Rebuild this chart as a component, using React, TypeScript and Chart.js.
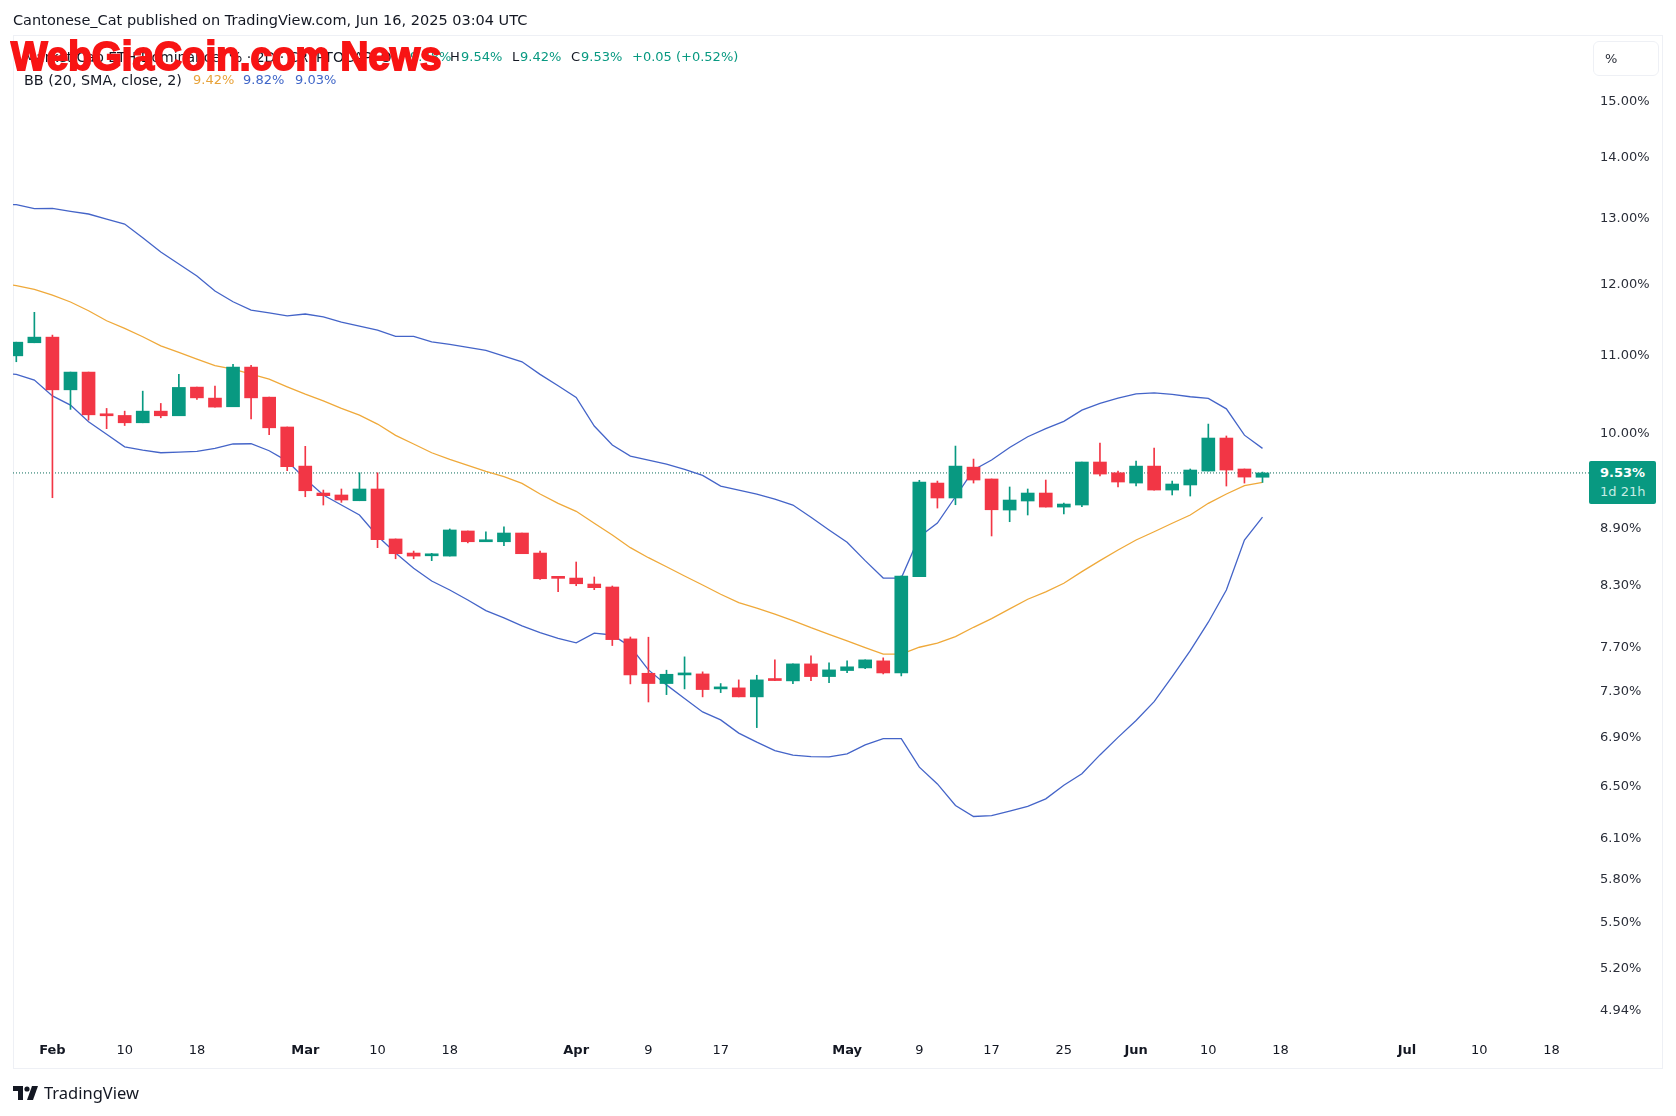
import { useEffect, useRef } from "react";
import { Chart, registerables } from "chart.js";

Chart.register(...registerables);

const opens = [10.995, 11.172, 11.249, 10.548, 10.779, 10.24, 10.223, 10.132, 10.277, 10.219, 10.583, 10.442, 10.332, 10.845, 10.454, 10.08, 9.61, 9.299, 9.277, 9.212, 9.345, 8.792, 8.642, 8.613, 8.61, 8.878, 8.762, 8.762, 8.856, 8.642, 8.386, 8.382, 8.321, 8.291, 7.782, 7.462, 7.369, 7.447, 7.456, 7.321, 7.33, 7.25, 7.402, 7.393, 7.548, 7.432, 7.487, 7.511, 7.576, 7.465, 8.396, 9.413, 9.243, 9.598, 9.46, 9.108, 9.209, 9.299, 9.141, 9.164, 9.658, 9.532, 9.413, 9.61, 9.333, 9.391, 9.552, 9.945, 9.576, 9.48];
const highs = [11.18, 11.595, 11.277, 10.779, 10.779, 10.311, 10.277, 10.531, 10.374, 10.749, 10.583, 10.596, 10.88, 10.867, 10.454, 10.08, 9.845, 9.333, 9.345, 9.532, 9.532, 8.792, 8.663, 8.639, 8.9, 8.878, 8.87, 8.923, 8.856, 8.663, 8.386, 8.548, 8.393, 8.301, 7.8, 7.798, 7.49, 7.613, 7.475, 7.369, 7.402, 7.444, 7.585, 7.548, 7.622, 7.557, 7.576, 7.585, 7.604, 8.403, 9.445, 9.436, 9.848, 9.693, 9.46, 9.368, 9.345, 9.448, 9.186, 9.658, 9.885, 9.552, 9.669, 9.824, 9.436, 9.576, 10.116, 9.97, 9.576, 9.54];
const lows = [10.916, 11.172, 9.246, 10.299, 10.165, 10.059, 10.098, 10.132, 10.194, 10.219, 10.425, 10.328, 10.332, 10.181, 9.985, 9.556, 9.257, 9.164, 9.194, 9.212, 8.699, 8.582, 8.582, 8.562, 8.61, 8.75, 8.762, 8.72, 8.635, 8.369, 8.244, 8.304, 8.264, 7.719, 7.366, 7.205, 7.27, 7.321, 7.25, 7.288, 7.25, 6.983, 7.396, 7.369, 7.396, 7.378, 7.468, 7.505, 7.456, 7.438, 8.396, 9.13, 9.167, 9.413, 8.824, 8.979, 9.053, 9.141, 9.064, 9.145, 9.494, 9.368, 9.379, 9.333, 9.277, 9.265, 9.552, 9.379, 9.413, 9.42];
const closes = [11.18, 11.249, 10.548, 10.779, 10.231, 10.219, 10.132, 10.277, 10.219, 10.579, 10.445, 10.328, 10.845, 10.445, 10.07, 9.603, 9.325, 9.269, 9.22, 9.345, 8.784, 8.635, 8.61, 8.62, 8.889, 8.762, 8.77, 8.856, 8.635, 8.375, 8.379, 8.324, 8.284, 7.775, 7.447, 7.369, 7.453, 7.456, 7.315, 7.33, 7.25, 7.402, 7.396, 7.548, 7.432, 7.493, 7.521, 7.585, 7.465, 8.403, 9.425, 9.243, 9.61, 9.448, 9.111, 9.22, 9.299, 9.141, 9.175, 9.658, 9.517, 9.425, 9.61, 9.333, 9.402, 9.564, 9.945, 9.564, 9.482, 9.53];

// the bands start one bar earlier than the candles, that bar sits just off the left edge
const bbUpper = [13.24, 13.223, 13.159, 13.165, 13.117, 13.074, 12.994, 12.915, 12.701, 12.482, 12.3, 12.121, 11.9, 11.746, 11.627, 11.588, 11.546, 11.571, 11.532, 11.458, 11.402, 11.346, 11.259, 11.259, 11.185, 11.149, 11.108, 11.068, 10.991, 10.915, 10.749, 10.6, 10.45, 10.092, 9.861, 9.728, 9.681, 9.634, 9.572, 9.502, 9.379, 9.333, 9.288, 9.231, 9.164, 9.028, 8.889, 8.757, 8.562, 8.382, 8.382, 8.816, 8.965, 9.257, 9.564, 9.681, 9.83, 9.961, 10.059, 10.15, 10.29, 10.374, 10.442, 10.497, 10.51, 10.49, 10.459, 10.438, 10.306, 9.98, 9.82];
const bbBasis = [12.02, 11.979, 11.926, 11.84, 11.742, 11.617, 11.476, 11.37, 11.254, 11.13, 11.041, 10.951, 10.863, 10.818, 10.753, 10.687, 10.587, 10.493, 10.407, 10.311, 10.227, 10.116, 9.978, 9.873, 9.768, 9.689, 9.619, 9.549, 9.486, 9.41, 9.288, 9.183, 9.094, 8.962, 8.835, 8.699, 8.593, 8.499, 8.403, 8.311, 8.218, 8.134, 8.079, 8.02, 7.957, 7.889, 7.826, 7.763, 7.699, 7.638, 7.638, 7.703, 7.741, 7.804, 7.893, 7.977, 8.072, 8.168, 8.241, 8.329, 8.448, 8.562, 8.674, 8.781, 8.87, 8.962, 9.053, 9.183, 9.288, 9.383, 9.42];
const bbLower = [10.77, 10.749, 10.674, 10.47, 10.353, 10.144, 9.99, 9.839, 9.8, 9.768, 9.776, 9.785, 9.82, 9.873, 9.876, 9.792, 9.669, 9.46, 9.277, 9.164, 9.053, 8.824, 8.642, 8.482, 8.352, 8.261, 8.161, 8.055, 7.984, 7.906, 7.841, 7.788, 7.744, 7.836, 7.819, 7.709, 7.493, 7.357, 7.235, 7.118, 7.049, 6.936, 6.86, 6.79, 6.752, 6.74, 6.738, 6.762, 6.837, 6.89, 6.89, 6.654, 6.519, 6.35, 6.265, 6.272, 6.306, 6.342, 6.401, 6.509, 6.6, 6.754, 6.9, 7.044, 7.208, 7.432, 7.671, 7.942, 8.261, 8.781, 9.03];

const priceTicks = [15, 14, 13, 12, 11, 10, 8.9, 8.3, 7.7, 7.3, 6.9, 6.5, 6.1, 5.8, 5.5, 5.2, 4.94];
const timeTickSlots = [2, 6, 10, 16, 20, 24, 31, 35, 39, 46, 50, 54, 58, 62, 66, 70, 77, 81, 85];
const timeTickLabels = ["Feb", "10", "18", "Mar", "10", "18", "Apr", "9", "17", "May", "9", "17", "25", "Jun", "10", "18", "Jul", "10", "18"];

const GREEN = "#089981";
const RED = "#F23645";
const BLUE = "#4464c8";
const ORANGE = "#efa93a";
const X_MIN = -0.183;
const X_MAX = 87.41;
const Y_MIN = 4.786;
const Y_MAX = 16.268;
const FONT = '"DejaVu Sans", sans-serif';

const labelStyle = (left: number, top: number, color: string, size = 13): React.CSSProperties => ({
  position: "absolute",
  left,
  top,
  color,
  fontFamily: FONT,
  fontSize: size,
  lineHeight: "16px",
  whiteSpace: "pre",
});

export default function App() {
  const canvasRef = useRef<HTMLCanvasElement>(null);

  useEffect(() => {
    if (!canvasRef.current) return;
    document.body.style.margin = "0";

    const candleColors = closes.map((c, i) => (c >= opens[i] ? GREEN : RED));
    const lineStyle = { pointRadius: 0, borderWidth: 1.3, tension: 0 };
    const bandPoints = (band: number[]) => band.map((y, i) => ({ x: i - 1, y }));

    const chart = new Chart(canvasRef.current, {
      data: {
        datasets: [
          {
            type: "bar",
            label: "Body",
            data: closes.map((c, i) => ({ x: i, y: [opens[i], c] })),
            backgroundColor: candleColors,
            barThickness: 13,
            minBarLength: 2,
            grouped: false,
            order: 0,
          },
          {
            type: "bar",
            label: "Wick",
            data: highs.map((h, i) => ({ x: i, y: [lows[i], h] })),
            backgroundColor: candleColors,
            barThickness: 1,
            grouped: false,
            order: 1,
          },
          { type: "line", label: "Basis", data: bandPoints(bbBasis), borderColor: ORANGE, order: 2, ...lineStyle },
          { type: "line", label: "Upper", data: bandPoints(bbUpper), borderColor: BLUE, order: 3, ...lineStyle },
          { type: "line", label: "Lower", data: bandPoints(bbLower), borderColor: BLUE, order: 3, ...lineStyle },
          {
            type: "line",
            label: "Last",
            data: [
              { x: X_MIN, y: closes[closes.length - 1] },
              { x: X_MAX, y: closes[closes.length - 1] },
            ],
            borderColor: "#0b6b5a",
            borderWidth: 1,
            borderDash: [1, 2],
            pointRadius: 0,
            order: 4,
          },
        ],
      } as any,
      options: {
        responsive: false,
        animation: false,
        layout: { padding: { left: 13, top: 35, right: 0, bottom: 0 } },
        plugins: { legend: { display: false }, tooltip: { enabled: false } },
        scales: {
          x: {
            type: "linear",
            min: X_MIN,
            max: X_MAX,
            offset: false,
            bounds: "data",
            grid: { display: false, drawTicks: false },
            border: { display: false },
            afterFit: (scale: any) => {
              scale.height = 79;
            },
            afterBuildTicks: (scale: any) => {
              scale.ticks = timeTickSlots.map((value) => ({ value }));
            },
            ticks: {
              autoSkip: false,
              maxRotation: 0,
              padding: 6,
              color: "#131722",
              font: (ctx: any) => ({
                family: FONT,
                size: 13,
                weight: /[a-z]/i.test(timeTickLabels[ctx.index] ?? "") ? "bold" : "normal",
              }),
              callback: (_v: any, i: number) => timeTickLabels[i],
            },
          },
          y: {
            type: "logarithmic",
            position: "right",
            min: Y_MIN,
            max: Y_MAX,
            bounds: "data",
            grid: { display: false, drawTicks: false },
            border: { display: false },
            afterFit: (scale: any) => {
              scale.width = 81;
            },
            afterBuildTicks: (scale: any) => {
              scale.ticks = priceTicks.map((value) => ({ value }));
            },
            ticks: {
              autoSkip: false,
              padding: 5,
              color: "#2a2e39",
              font: { family: FONT, size: 13 },
              callback: (v: any) => Number(v).toFixed(2) + "%",
            },
          },
        },
      },
    });

    return () => chart.destroy();
  }, []);

  return (
    <div style={{ position: "relative", width: 1676, height: 1116, background: "#fff", overflow: "hidden" }}>
      <div style={{ position: "absolute", left: 13, top: 35, width: 1650, height: 1034, border: "1px solid #eef0f5", boxSizing: "border-box" }} />
      <canvas ref={canvasRef} width={1676} height={1116} style={{ position: "absolute", left: 0, top: 0 }} />

      <div style={labelStyle(13, 12, "#131722", 14.5)}>Cantonese_Cat published on TradingView.com, Jun 16, 2025 03:04 UTC</div>

      <div style={labelStyle(24, 49, "#131722", 14)}>Market Cap ETH Dominance, % · 2D · CRYPTOCAP  O</div>
      <div style={labelStyle(410, 49, GREEN)}>9.48%</div>
      <div style={labelStyle(450, 49, "#131722")}>H</div>
      <div style={labelStyle(461, 49, GREEN)}>9.54%</div>
      <div style={labelStyle(512, 49, "#131722")}>L</div>
      <div style={labelStyle(520, 49, GREEN)}>9.42%</div>
      <div style={labelStyle(571, 49, "#131722")}>C</div>
      <div style={labelStyle(581, 49, GREEN)}>9.53%</div>
      <div style={labelStyle(632, 49, GREEN)}>+0.05 (+0.52%)</div>

      <div style={labelStyle(24, 72, "#131722", 14.3)}>BB (20, SMA, close, 2)</div>
      <div style={labelStyle(193, 72, "#e8a33a")}>9.42%</div>
      <div style={labelStyle(243, 72, "#3f66c8")}>9.82%</div>
      <div style={labelStyle(295, 72, "#3f66c8")}>9.03%</div>

      <div
        style={{
          position: "absolute",
          left: 11,
          top: 35,
          color: "#f81414",
          fontFamily: '"Liberation Sans", sans-serif',
          fontWeight: "bold",
          fontSize: 40,
          lineHeight: "42px",
          whiteSpace: "pre",
          WebkitTextStroke: "2px #f81414",
          transform: "scaleX(0.965)",
          transformOrigin: "left top",
        }}
      >
        WebGiaCoin.com News
      </div>

      <div style={{ position: "absolute", left: 1593, top: 41, width: 66, height: 35, border: "1px solid #eef0f5", borderRadius: 6, boxSizing: "border-box" }} />
      <div style={labelStyle(1605, 51, "#2a2e39")}>%</div>

      <div style={{ position: "absolute", left: 1589, top: 461, width: 67, height: 43, background: "#089981", borderRadius: 2 }} />
      <div style={{ ...labelStyle(1600, 465, "#ffffff"), fontWeight: "bold" }}>9.53%</div>
      <div style={labelStyle(1600, 484, "#c6ece4")}>1d 21h</div>

      <svg style={{ position: "absolute", left: 13, top: 1086 }} width="26" height="14" viewBox="0 0 26 14">
        <path d="M0 0h10v14H5V5H0z" fill="#131722" />
        <circle cx="14" cy="3" r="2.6" fill="#131722" />
        <path d="M19 0h6l-5 14h-6z" fill="#131722" />
      </svg>
      <div style={{ position: "absolute", left: 44, top: 1084, color: "#131722", fontFamily: '"Noto Sans", sans-serif', fontSize: 16.5, lineHeight: "18px" }}>TradingView</div>
    </div>
  );
}
